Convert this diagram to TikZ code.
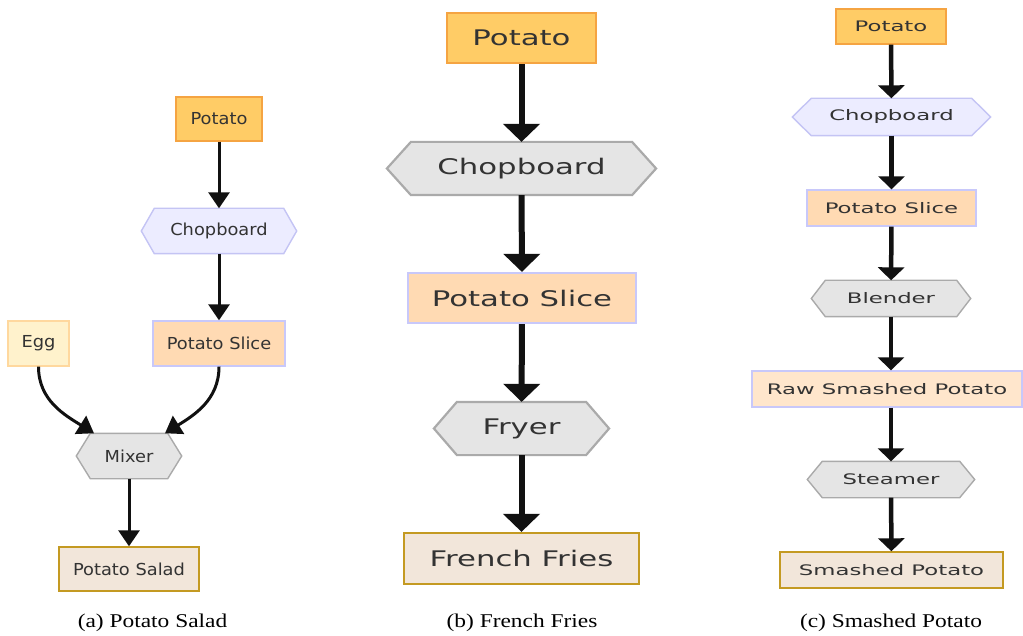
\documentclass[tikz,border=0pt]{standalone}
\usepackage{fontspec}
\usetikzlibrary{arrows.meta,backgrounds}
\newfontfamily\fontDA{DejaVu Sans}[FakeStretch=1.08]
\newfontfamily\fontDB{DejaVu Sans}[FakeStretch=1.43]
\newfontfamily\fontDC{DejaVu Sans}[FakeStretch=1.57]
\newfontfamily\fontCap{Liberation Serif}[FakeStretch=1.2]
\definecolor{potfill}{HTML}{FFCC66}
\definecolor{potdraw}{HTML}{F5A442}
\definecolor{chopfill}{HTML}{ECECFF}
\definecolor{chopdraw}{HTML}{C4C4F4}
\definecolor{slicefill}{HTML}{FFDAB3}
\definecolor{slicedraw}{HTML}{C8C8FA}
\definecolor{rawfill}{HTML}{FFE6CC}
\definecolor{eggfill}{HTML}{FFF2CC}
\definecolor{eggdraw}{HTML}{FFD89E}
\definecolor{toolfill}{HTML}{E5E5E5}
\definecolor{tooldraw}{HTML}{AAAAAA}
\definecolor{prodfill}{HTML}{F2E6DA}
\definecolor{proddraw}{HTML}{C49A22}
\definecolor{txt}{HTML}{333333}
\definecolor{arr}{HTML}{111111}
\tikzset{
  box/.style n args={2}{draw, inner sep=0pt, text=txt, minimum width=#1, minimum height=#2},
  hexcore/.style={draw=none, fill=none, inner sep=0pt, text=txt},
  pa/.style={font=\fontDA\fontsize{16.5}{18}\selectfont, line width=1.4pt},
  pb/.style={font=\fontDB\fontsize{21.5}{24}\selectfont, line width=2.2pt},
  pc/.style={font=\fontDC\fontsize{14.5}{16}\selectfont, line width=1.4pt},
  potato/.style={fill=potfill, draw=potdraw},
  chopl/.style={fill=chopfill, draw=chopdraw},
  slice/.style={fill=slicefill, draw=slicedraw},
  raw/.style={fill=rawfill, draw=slicedraw},
  egg/.style={fill=eggfill, draw=eggdraw},
  tool/.style={fill=toolfill, draw=tooldraw},
  prod/.style={fill=prodfill, draw=proddraw},
  arrA/.style={draw=arr, line width=3pt, -{Triangle[width=21pt,length=16pt]}},
  arrB/.style={draw=arr, line width=6pt, -{Triangle[width=36pt,length=18pt]}},
  arrC/.style={draw=arr, line width=4.5pt, -{Triangle[width=26pt,length=13pt]}},
  captext/.style={font=\fontCap\fontsize{19.5}{22}\selectfont, text=black, inner sep=0pt}
}
% style, name, x, y, total width, height, inset, text
\newcommand\hexnode[8]{%
  \node[#1, hexcore, minimum width=#5-2*#7, minimum height=#6] (#2) at (#3,#4) {#8};
  \begin{pgfonlayer}{background}
  \path[#1] ([xshift=-#7]#2.west) -- (#2.north west) -- (#2.north east) -- ([xshift=#7]#2.east)
     -- (#2.south east) -- (#2.south west) -- cycle;
  \end{pgfonlayer}}
\begin{document}
\begin{tikzpicture}[x=1pt,y=-1pt]
\useasboundingbox (0,0) rectangle (1023,636);
% ---------- (a) Potato Salad
\node[pa, potato, box={86pt}{44pt}] (apot) at (219,119) {Potato};
\hexnode{pa, chopl}{achop}{219}{231}{154pt}{44pt}{13pt}{Chopboard}
\node[pa, slice, box={132pt}{45pt}] (aslice) at (219,343.5) {Potato Slice};
\node[pa, egg, box={61pt}{45pt}] (aegg) at (38.5,343.5) {Egg};
\hexnode{pa, tool}{amix}{129}{456}{104pt}{44pt}{14pt}{Mixer}
\node[pa, prod, box={140pt}{44pt}] (asalad) at (129,569) {Potato Salad};
\draw[arrA] (apot) -- (achop);
\draw[arrA] (achop) -- (aslice);
\draw[arrA] (aegg.south) to[out=-90,in=148] ([xshift=-35pt]amix.north);
\draw[arrA] (aslice.south) to[out=-90,in=32] ([xshift=36pt]amix.north);
\draw[arrA] (amix) -- (asalad);
\node[captext] (capa) at (152.5,623) {(a) Potato Salad};
% ---------- (b) French Fries
\node[pb, potato, box={149pt}{50pt}] (bpot) at (521.5,38) {Potato};
\hexnode{pb, tool}{bchop}{521.5}{168.5}{267pt}{51pt}{24pt}{Chopboard}
\node[pb, slice, box={228pt}{50pt}] (bslice) at (522,298) {Potato Slice};
\hexnode{pb, tool}{bfry}{521.5}{428.5}{173pt}{51pt}{23pt}{Fryer}
\node[pb, prod, box={235pt}{51pt}] (bff) at (521.5,558.5) {French Fries};
\draw[arrB] (bpot) -- (bchop);
\draw[arrB] (bchop) -- (bslice);
\draw[arrB] (bslice) -- (bfry);
\draw[arrB] (bfry) -- (bff);
\node[captext] (capb) at (522,623) {(b) French Fries};
% ---------- (c) Smashed Potato
\node[pc, potato, box={110pt}{35pt}] (cpot) at (891,26.5) {Potato};
\hexnode{pc, chopl}{cchop}{891.5}{117}{197pt}{36pt}{19pt}{Chopboard}
\node[pc, slice, box={169pt}{36pt}] (cslice) at (891.5,208) {Potato Slice};
\hexnode{pc, tool}{cblend}{891}{298.5}{158pt}{35pt}{14pt}{Blender}
\node[pc, raw, box={270pt}{36pt}] (craw) at (887,389) {Raw Smashed Potato};
\hexnode{pc, tool}{csteam}{891}{479.5}{166pt}{35pt}{15pt}{Steamer}
\node[pc, prod, box={223pt}{36pt}] (csmash) at (891.5,570) {Smashed Potato};
\draw[arrC] (cpot) -- (cchop);
\draw[arrC] (cchop) -- (cslice);
\draw[arrC] (cslice) -- (cblend);
\draw[arrC] (cblend) -- (cblend |- craw.north);
\draw[arrC] (craw.south -| csteam) -- (csteam);
\draw[arrC] (csteam) -- (csmash);
\node[captext] (capc) at (891,623) {(c) Smashed Potato};
\end{tikzpicture}
\end{document}
